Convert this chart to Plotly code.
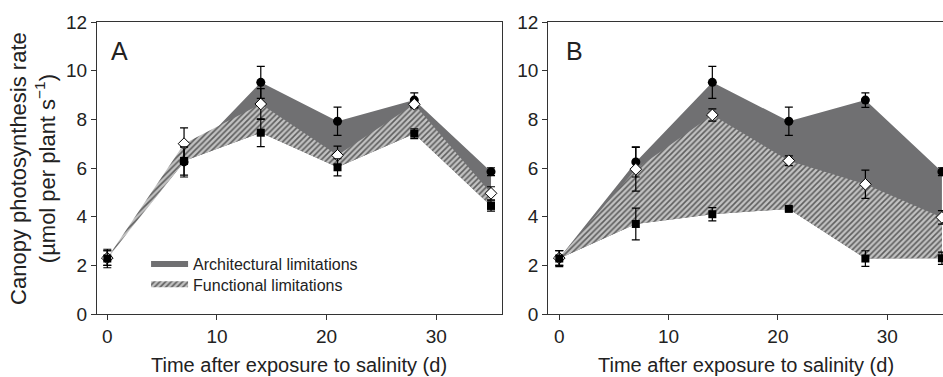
import plotly.graph_objects as go

# ---------------- data ----------------
days = [0, 7, 14, 21, 28, 35]

control = [2.3, 6.25, 9.52, 7.92, 8.79, 5.85]
control_err = [0.30, 0.62, 0.66, 0.58, 0.30, 0.16]

a_mid = [2.3, 7.0, 8.63, 6.52, 8.62, 4.96]
a_mid_err = [0.30, 0.65, 0.63, 0.38, 0.15, 0.27]
a_low = [2.28, 6.29, 7.45, 6.03, 7.41, 4.44]
a_low_err = [0.38, 0.58, 0.57, 0.35, 0.20, 0.21]

b_mid = [2.3, 5.95, 8.18, 6.30, 5.33, 3.97]
b_mid_err = [0.30, 0.90, 0.25, 0.20, 0.58, 0.28]
b_low = [2.28, 3.70, 4.10, 4.32, 2.28, 2.29]
b_low_err = [0.33, 0.65, 0.27, 0.08, 0.32, 0.25]

x_ticks = [0, 10, 20, 30]
y_ticks = [0, 2, 4, 6, 8, 10, 12]

# ---------------- style ----------------
DARK = "#707072"
HATCH_BG = "#c2c2c2"
HATCH_FG = "#5e5e5e"
AXC = "#333333"
TXT = "#222222"
FONT = "Liberation Sans, Arial, sans-serif"

fig = go.Figure()


def add_panel(xa, ya, top, mid, mid_err, low, low_err, legend):
    # architectural limitation (control -> lowest treatment)
    fig.add_trace(go.Scatter(
        x=days + days[::-1], y=top + low[::-1], xaxis=xa, yaxis=ya,
        fill="toself", fillcolor=DARK, mode="none",
        name="Architectural limitations", showlegend=legend,
        legend="legend", hoverinfo="skip"))
    # functional limitation (intermediate -> lowest treatment)
    fig.add_trace(go.Scatter(
        x=days + days[::-1], y=mid + low[::-1], xaxis=xa, yaxis=ya,
        fill="toself", fillcolor=HATCH_BG, mode="none",
        fillpattern=dict(shape="/", bgcolor=HATCH_BG, fgcolor=HATCH_FG,
                         size=4, solidity=0.4),
        name="Functional limitations", showlegend=legend,
        legend="legend2", hoverinfo="skip"))
    eb = dict(color="black", thickness=1.2, width=4)
    fig.add_trace(go.Scatter(
        x=days, y=top, xaxis=xa, yaxis=ya, mode="markers",
        marker=dict(symbol="circle", size=9, color="black"),
        error_y=dict(type="data", array=control_err, **eb),
        showlegend=False, cliponaxis=False, hoverinfo="skip"))
    fig.add_trace(go.Scatter(
        x=days, y=mid, xaxis=xa, yaxis=ya, mode="markers",
        marker=dict(symbol="diamond", size=9, color="white",
                    line=dict(color="black", width=1)),
        error_y=dict(type="data", array=mid_err, **eb),
        showlegend=False, cliponaxis=False, hoverinfo="skip"))
    fig.add_trace(go.Scatter(
        x=days, y=low, xaxis=xa, yaxis=ya, mode="markers",
        marker=dict(symbol="square", size=8, color="black"),
        error_y=dict(type="data", array=low_err, **eb),
        showlegend=False, cliponaxis=False, hoverinfo="skip"))


add_panel("x", "y", control, a_mid, a_mid_err, a_low, a_low_err, True)
add_panel("x2", "y2", control, b_mid, b_mid_err, b_low, b_low_err, False)

axis_common = dict(showgrid=False, zeroline=False, showline=True,
                   automargin=False,
                   linecolor=AXC, linewidth=1.2, ticks="outside",
                   ticklen=5, tickcolor=AXC, tickwidth=1.2,
                   tickfont=dict(size=19, color=TXT, family=FONT))

leg_common = dict(xanchor="left", yanchor="top", bgcolor="rgba(0,0,0,0)",
                  font=dict(size=16, color=TXT), itemwidth=37)

fig.update_layout(
    template="none",
    width=943, height=377,
    margin=dict(l=97, r=0, t=22, b=63, pad=0),
    paper_bgcolor="white", plot_bgcolor="white",
    font=dict(family=FONT, color=TXT),
    xaxis=dict(domain=[0, 0.4787], range=[-0.94, 36.0], tickvals=x_ticks,
               mirror=True, anchor="y", **axis_common),
    yaxis=dict(range=[0, 12], tickvals=y_ticks, mirror=True, anchor="x",
               **axis_common),
    xaxis2=dict(domain=[0.5335, 1.0], range=[-1.0, 35.1], tickvals=x_ticks,
                mirror=True, anchor="y2", **axis_common),
    yaxis2=dict(range=[0, 12], tickvals=y_ticks, mirror=False, anchor="x2",
                **axis_common),
    legend=dict(x=0.058, y=0.2295, **leg_common),
    legend2=dict(x=0.058, y=0.1596, **leg_common),
    showlegend=True,
)

ann = []
ann.append(dict(text="A", xref="x domain", yref="y domain", x=0.03, y=0.955,
                xanchor="left", yanchor="top", showarrow=False,
                font=dict(size=25, color=TXT)))
ann.append(dict(text="B", xref="x2 domain", yref="y2 domain", x=0.04, y=0.955,
                xanchor="left", yanchor="top", showarrow=False,
                font=dict(size=25, color=TXT)))
for xr in ["x domain", "x2 domain"]:
    ann.append(dict(text="Time after exposure to salinity (d)", xref=xr,
                    yref="paper", x=0.5, y=-0.1747, xanchor="center",
                    yanchor="middle", showarrow=False,
                    font=dict(size=20, color=TXT)))
ann.append(dict(text="Canopy photosynthesis rate<br>(µmol per plant s<sup>−1</sup>)",
                xref="paper", yref="paper", x=-0.0757, y=0.5,
                xanchor="center", yanchor="middle", textangle=-90,
                showarrow=False, font=dict(size=22, color=TXT)))
fig.update_layout(annotations=ann)

fig.write_html(
    "out.html",
    config={"displayModeBar": False},
    post_script="document.body.style.margin='0px';"
                "document.body.style.overflow='hidden';",
)
